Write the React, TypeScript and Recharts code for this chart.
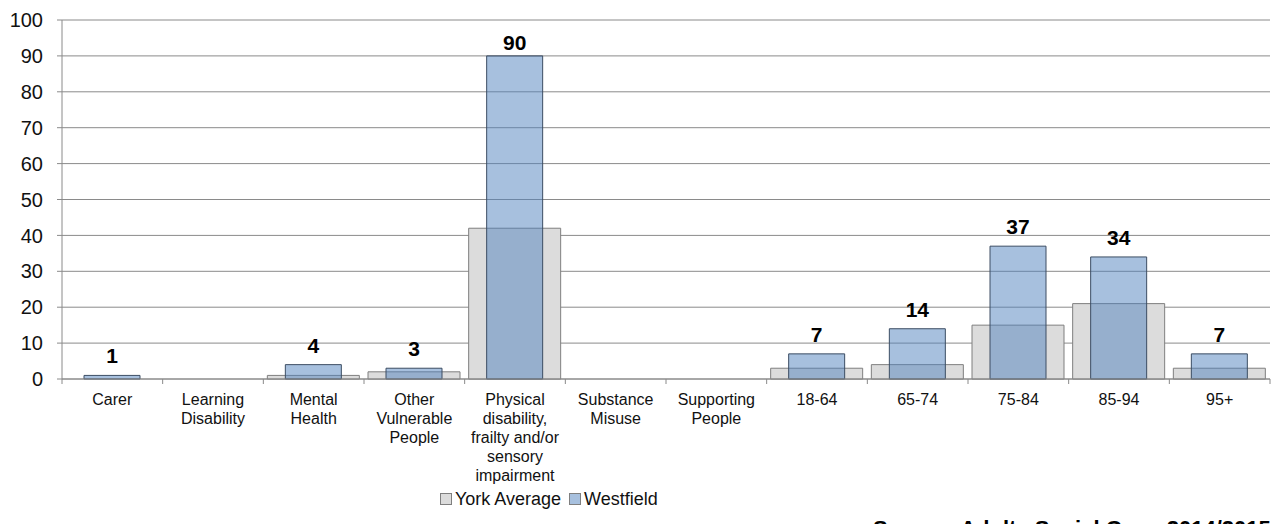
import { BarChart, Bar, XAxis, YAxis, CartesianGrid, Legend, LabelList } from 'recharts';

const categories = [
  'Carer',
  'Learning\nDisability',
  'Mental\nHealth',
  'Other\nVulnerable\nPeople',
  'Physical\ndisability,\nfrailty and/or\nsensory\nimpairment',
  'Substance\nMisuse',
  'Supporting\nPeople',
  '18-64',
  '65-74',
  '75-84',
  '85-94',
  '95+',
];
const yorkAverage = [0, 0, 1, 2, 42, 0, 0, 3, 4, 15, 21, 3];
const westfield = [1, 0, 4, 3, 90, 0, 0, 7, 14, 37, 34, 7];
const yTicks = [0, 10, 20, 30, 40, 50, 60, 70, 80, 90, 100];

const data = categories.map((name, i) => ({
  name,
  york: yorkAverage[i],
  westfield: westfield[i],
}));

const FONT = '"Liberation Sans", Arial, sans-serif';
const GRID = '#8a8a8a';
const YORK_FILL = '#dcdcdc';
const YORK_STROKE = '#7f7f7f';
const WEST_FILL = '#4f81bd';
const WEST_STROKE = '#3c4d63';

const CategoryTick = (props: any) => {
  const { x, y, payload, index, visibleTicksCount } = props;
  const band = 1208 / categories.length;
  const lines = String(payload.value).split('\n');
  const isLast = index === (visibleTicksCount ?? categories.length) - 1;
  return (
    <g>
      <line x1={x - band / 2} x2={x - band / 2} y1={y - 5} y2={y} stroke={GRID} />
      {isLast && <line x1={x + band / 2} x2={x + band / 2} y1={y - 5} y2={y} stroke={GRID} />}
      <text textAnchor="middle" fontFamily={FONT} fontSize={16} fill="#111">
        {lines.map((l, i) => (
          <tspan key={i} x={x} y={y + 21 + i * 19}>
            {l}
          </tspan>
        ))}
      </text>
    </g>
  );
};

const WestLabel = (props: any) => {
  const { x, y, width, value } = props;
  if (!value) return null;
  return (
    <text
      x={x + width / 2}
      y={Math.max(y - 12, 50)}
      textAnchor="middle"
      fontFamily={FONT}
      fontSize={21}
      fontWeight="bold"
      fill="#000"
    >
      {value}
    </text>
  );
};

const LegendContent = () => (
  <div style={{ display: 'flex', fontFamily: FONT, fontSize: 18, lineHeight: '22px', color: '#111' }}>
    <div style={{ display: 'flex', alignItems: 'center', marginRight: 8 }}>
      <span style={{ width: 10, height: 10, background: YORK_FILL, border: `1px solid ${YORK_STROKE}`, marginRight: 3 }} />
      York Average
    </div>
    <div style={{ display: 'flex', alignItems: 'center' }}>
      <span style={{ width: 10, height: 10, background: '#a7c0de', border: `1px solid ${YORK_STROKE}`, marginRight: 3 }} />
      Westfield
    </div>
  </div>
);

export default function App() {
  return (
    <div style={{ position: 'absolute', left: 0, top: 0, width: 1277, height: 524, overflow: 'hidden', background: '#fff' }}>
      <BarChart width={1277} height={524} data={data} margin={{ top: 20, right: 7, left: 0, bottom: 0 }}>
        <CartesianGrid vertical={false} stroke={GRID} />
        <XAxis
          xAxisId="york"
          dataKey="name"
          height={145}
          interval={0}
          tickLine={false}
          tickSize={5}
          tickMargin={0}
          stroke={GRID}
          tick={<CategoryTick />}
        />
        <XAxis xAxisId="west" dataKey="name" hide height={0} />
        <YAxis
          width={62}
          domain={[0, 100]}
          ticks={yTicks}
          interval={0}
          stroke={GRID}
          tickSize={5}
          tickMargin={14}
          tick={{ fontFamily: FONT, fontSize: 20, fill: '#111' }}
        />
        <Legend
          layout="horizontal"
          verticalAlign="middle"
          align="center"
          wrapperStyle={{ top: 488, left: 440, width: 'auto', height: 'auto' }}
          content={<LegendContent />}
        />
        <Bar
          xAxisId="york"
          dataKey="york"
          name="York Average"
          barSize={92}
          fill={YORK_FILL}
          stroke={YORK_STROKE}
          isAnimationActive={false}
        />
        <Bar
          xAxisId="west"
          dataKey="westfield"
          name="Westfield"
          barSize={56}
          fill={WEST_FILL}
          fillOpacity={0.5}
          stroke={WEST_STROKE}
          isAnimationActive={false}
        >
          <LabelList dataKey="westfield" content={<WestLabel />} />
        </Bar>
      </BarChart>
      <div
        style={{
          position: 'absolute',
          left: 873,
          top: 518,
          fontFamily: FONT,
          fontSize: 22,
          fontWeight: 'bold',
          whiteSpace: 'pre',
          lineHeight: '22px',
          color: '#000',
        }}
      >
        {'Source: Adults Social Care  2014/2015'}
      </div>
    </div>
  );
}
